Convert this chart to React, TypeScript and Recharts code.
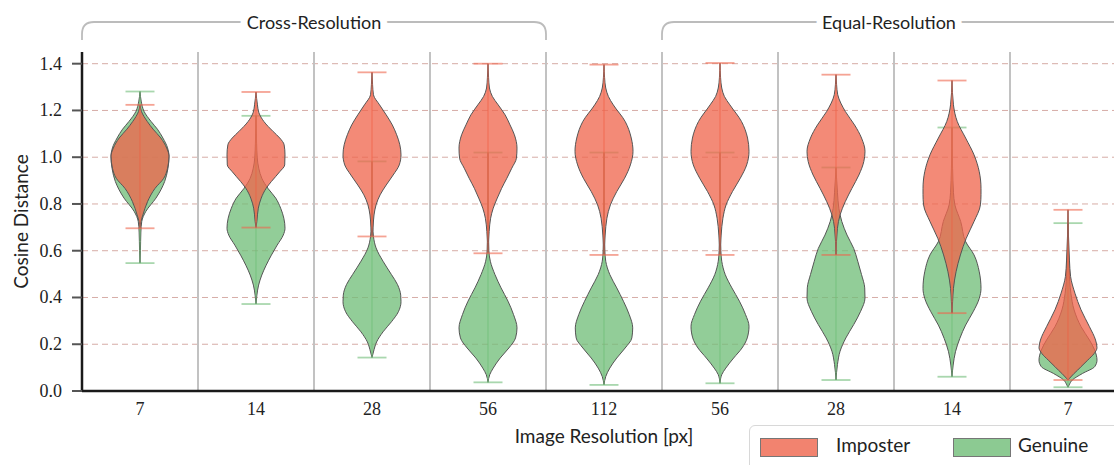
import React from 'react';
import * as RC from 'recharts';

const { ComposedChart, Bar, XAxis, YAxis, CartesianGrid, Legend, Label, Curve } = RC as any;

// ---- categories -----------------------------------------------------------
const CATEGORY_KEYS = [
  'cross-7', 'cross-14', 'cross-28', 'cross-56', 'both-112',
  'equal-56', 'equal-28', 'equal-14', 'equal-7',
];
const RESOLUTION_LABELS = ['7', '14', '28', '56', '112', '56', '28', '14', '7'];

// bracket groups above the plot (band index ranges, end exclusive)
const SECTION_LABELS = ['Cross-Resolution', 'Equal-Resolution'];
const SECTION_START = [0, 5];
const SECTION_END = [4, 9];

const Y_TICKS = [0, 0.2, 0.4, 0.6, 0.8, 1.0, 1.2, 1.4];
const GRID_VALUES = [0.2, 0.4, 0.6, 0.8, 1.0, 1.2, 1.4];

// ---- violin profiles: [cosine distance, relative density width] from min to max
type Knot = [number, number];

const IMPOSTER_CROSS_7: Knot[] = [[0.696, 0], [0.725, 0.03], [0.753, 0.1], [0.81, 0.26], [0.867, 0.52], [0.91, 0.82], [0.953, 0.95], [1.005, 1.0], [1.039, 0.92], [1.082, 0.72], [1.12, 0.45], [1.153, 0.25], [1.196, 0.05], [1.224, 0]];
const IMPOSTER_CROSS_14: Knot[] = [[0.699, 0], [0.725, 0.03], [0.782, 0.08], [0.825, 0.18], [0.867, 0.35], [0.896, 0.53], [0.938, 0.82], [0.967, 0.99], [1.01, 1.0], [1.053, 0.97], [1.082, 0.82], [1.11, 0.59], [1.153, 0.27], [1.19, 0.1], [1.224, 0.05], [1.279, 0]];
const IMPOSTER_CROSS_28: Knot[] = [[0.661, 0], [0.71, 0.04], [0.753, 0.07], [0.796, 0.14], [0.839, 0.28], [0.881, 0.49], [0.924, 0.73], [0.967, 0.94], [1.01, 1.0], [1.053, 0.96], [1.096, 0.85], [1.138, 0.7], [1.181, 0.49], [1.224, 0.26], [1.267, 0.05], [1.31, 0.02], [1.363, 0]];
const IMPOSTER_CROSS_56: Knot[] = [[0.589, 0], [0.682, 0.04], [0.739, 0.09], [0.782, 0.18], [0.825, 0.32], [0.867, 0.47], [0.91, 0.65], [0.953, 0.82], [0.996, 0.98], [1.039, 1.0], [1.096, 0.91], [1.138, 0.76], [1.181, 0.59], [1.224, 0.35], [1.26, 0.15], [1.296, 0.05], [1.34, 0.02], [1.4, 0]];
const IMPOSTER_BOTH_112: Knot[] = [[0.582, 0], [0.667, 0.04], [0.739, 0.1], [0.796, 0.22], [0.853, 0.44], [0.91, 0.71], [0.967, 0.91], [1.025, 1.0], [1.082, 0.94], [1.153, 0.73], [1.224, 0.32], [1.26, 0.15], [1.296, 0.06], [1.34, 0.02], [1.396, 0]];
const IMPOSTER_EQUAL_56: Knot[] = [[0.582, 0], [0.667, 0.04], [0.739, 0.1], [0.796, 0.21], [0.853, 0.43], [0.91, 0.7], [0.967, 0.92], [1.025, 1.0], [1.082, 0.95], [1.153, 0.74], [1.224, 0.34], [1.26, 0.15], [1.296, 0.06], [1.34, 0.02], [1.403, 0]];
const IMPOSTER_EQUAL_28: Knot[] = [[0.582, 0], [0.696, 0.05], [0.753, 0.14], [0.81, 0.32], [0.867, 0.55], [0.924, 0.79], [0.982, 0.96], [1.025, 1.0], [1.082, 0.88], [1.138, 0.64], [1.196, 0.32], [1.267, 0.06], [1.31, 0.02], [1.353, 0]];
const IMPOSTER_EQUAL_14: Knot[] = [[0.333, 0], [0.382, 0.02], [0.439, 0.05], [0.51, 0.14], [0.582, 0.29], [0.653, 0.49], [0.725, 0.76], [0.796, 0.98], [0.84, 1.0], [0.867, 1.0], [0.938, 0.94], [1.01, 0.76], [1.082, 0.47], [1.153, 0.18], [1.224, 0.05], [1.328, 0]];
const IMPOSTER_EQUAL_7: Knot[] = [[0.047, 0], [0.054, 0.05], [0.075, 0.21], [0.089, 0.33], [0.104, 0.45], [0.132, 0.68], [0.16, 0.9], [0.185, 1.0], [0.218, 0.95], [0.275, 0.74], [0.347, 0.45], [0.418, 0.24], [0.489, 0.09], [0.56, 0.05], [0.775, 0]];

const GENUINE_CROSS_7: Knot[] = [[0.547, 0], [0.6, 0.015], [0.68, 0.03], [0.725, 0.06], [0.768, 0.2], [0.825, 0.55], [0.896, 0.85], [0.95, 0.96], [1.003, 1.0], [1.04, 0.95], [1.082, 0.79], [1.12, 0.6], [1.153, 0.38], [1.196, 0.14], [1.24, 0.04], [1.281, 0]];
const GENUINE_CROSS_14: Knot[] = [[0.372, 0], [0.41, 0.03], [0.453, 0.09], [0.496, 0.2], [0.538, 0.35], [0.581, 0.53], [0.624, 0.73], [0.667, 0.94], [0.696, 1.0], [0.739, 0.96], [0.782, 0.85], [0.825, 0.68], [0.867, 0.41], [0.91, 0.2], [0.95, 0.1], [1.0, 0.04], [1.06, 0.02], [1.177, 0]];
const GENUINE_CROSS_28: Knot[] = [[0.143, 0], [0.167, 0.05], [0.21, 0.16], [0.253, 0.38], [0.296, 0.67], [0.339, 0.91], [0.382, 1.0], [0.41, 0.99], [0.455, 0.88], [0.498, 0.67], [0.555, 0.38], [0.612, 0.14], [0.661, 0.05], [0.7, 0.03], [0.8, 0.015], [0.982, 0]];
const GENUINE_CROSS_56: Knot[] = [[0.037, 0], [0.07, 0.06], [0.098, 0.18], [0.141, 0.42], [0.184, 0.72], [0.227, 0.95], [0.27, 1.0], [0.327, 0.88], [0.384, 0.69], [0.441, 0.45], [0.498, 0.24], [0.555, 0.08], [0.6, 0.03], [0.7, 0.015], [1.02, 0]];
const GENUINE_BOTH_112: Knot[] = [[0.026, 0], [0.062, 0.06], [0.098, 0.2], [0.141, 0.44], [0.184, 0.73], [0.227, 0.96], [0.27, 0.99], [0.327, 0.87], [0.384, 0.67], [0.441, 0.44], [0.498, 0.2], [0.555, 0.06], [0.6, 0.03], [0.7, 0.015], [1.02, 0]];
const GENUINE_EQUAL_56: Knot[] = [[0.033, 0], [0.07, 0.06], [0.098, 0.2], [0.141, 0.47], [0.184, 0.76], [0.227, 0.94], [0.277, 1.0], [0.327, 0.88], [0.384, 0.67], [0.441, 0.41], [0.498, 0.18], [0.555, 0.06], [0.6, 0.03], [0.7, 0.015], [1.02, 0]];
const GENUINE_EQUAL_28: Knot[] = [[0.047, 0], [0.113, 0.05], [0.17, 0.14], [0.227, 0.34], [0.284, 0.61], [0.341, 0.85], [0.398, 1.0], [0.441, 0.99], [0.498, 0.88], [0.555, 0.75], [0.61, 0.61], [0.667, 0.38], [0.725, 0.2], [0.78, 0.1], [0.85, 0.05], [0.956, 0]];
const GENUINE_EQUAL_14: Knot[] = [[0.061, 0], [0.111, 0.04], [0.168, 0.12], [0.225, 0.27], [0.282, 0.47], [0.339, 0.73], [0.396, 0.94], [0.439, 1.0], [0.51, 0.94], [0.582, 0.76], [0.639, 0.47], [0.725, 0.3], [0.796, 0.1], [0.85, 0.05], [0.95, 0.02], [1.127, 0]];
const GENUINE_EQUAL_7: Knot[] = [[0.016, 0], [0.026, 0.04], [0.047, 0.15], [0.075, 0.5], [0.104, 0.92], [0.132, 1.0], [0.175, 0.92], [0.218, 0.74], [0.275, 0.45], [0.347, 0.21], [0.418, 0.1], [0.517, 0.04], [0.718, 0]];

const IMPOSTER_PROFILES = [
  IMPOSTER_CROSS_7, IMPOSTER_CROSS_14, IMPOSTER_CROSS_28, IMPOSTER_CROSS_56, IMPOSTER_BOTH_112,
  IMPOSTER_EQUAL_56, IMPOSTER_EQUAL_28, IMPOSTER_EQUAL_14, IMPOSTER_EQUAL_7,
];
const GENUINE_PROFILES = [
  GENUINE_CROSS_7, GENUINE_CROSS_14, GENUINE_CROSS_28, GENUINE_CROSS_56, GENUINE_BOTH_112,
  GENUINE_EQUAL_56, GENUINE_EQUAL_28, GENUINE_EQUAL_14, GENUINE_EQUAL_7,
];

// ---- styling ----------------------------------------------------------------
const SANS = "Lato, 'Open Sans', sans-serif";
const SERIF = "'Liberation Serif', 'DejaVu Serif', serif";
const TEXT = '#222';
const IMPOSTER_COLOR = '#ef654c';
const GENUINE_COLOR = '#70bd78';
const BODY_OPACITY = 0.76;

const CHART_W = 1130;
const CHART_H = 480;
const MARGIN = { top: 52, right: 4, bottom: 29, left: 0 };
const Y_AXIS_W = 82;
const X_AXIS_H = 60;

const rows = CATEGORY_KEYS.map((key, i) => {
  const imp = IMPOSTER_PROFILES[i];
  const gen = GENUINE_PROFILES[i];
  return {
    key,
    label: RESOLUTION_LABELS[i],
    imposter: [imp[0][0], imp[imp.length - 1][0]],
    genuine: [gen[0][0], gen[gen.length - 1][0]],
    imposterProfile: imp,
    genuineProfile: gen,
  };
});

const labelFor = (key: string) => {
  const i = CATEGORY_KEYS.indexOf(key);
  return i >= 0 ? RESOLUTION_LABELS[i] : key;
};

// serif tick labels
function XTick(props: any) {
  const { x, y, payload } = props;
  return (
    <text x={x} y={y} dy={13} textAnchor="middle" fontFamily={SERIF} fontSize={18} fill={TEXT}>
      {labelFor(payload.value)}
    </text>
  );
}
function YTick(props: any) {
  const { x, y, payload } = props;
  return (
    <text x={x} y={y} dy={6} textAnchor="end" fontFamily={SERIF} fontSize={18} fill={TEXT}>
      {Number(payload.value).toFixed(1)}
    </text>
  );
}

// One violin: mirrored density body, centre bar, and min/max caps.
function Violin(props: any) {
  const { x, y, width, height, profile, color } = props;
  if (x == null || y == null || !profile || !profile.length) return <g />;
  const lo = profile[0][0];
  const hi = profile[profile.length - 1][0];
  const top = Math.min(y, y + height);
  const bottom = Math.max(y, y + height);
  const toPx = (v: number) => (hi === lo ? bottom : bottom - ((v - lo) / (hi - lo)) * (bottom - top));
  const cx = x + width / 2;
  const half = width / 2;
  const ordered = [...profile].reverse();
  const right = ordered.map(([v, w]: Knot) => ({ x: cx + w * half, y: toPx(v) }));
  const left = ordered.map(([v, w]: Knot) => ({ x: cx - w * half, y: toPx(v) }));
  const cap = width / 4;
  return (
    <g>
      <Curve
        type="monotoneY"
        layout="vertical"
        points={right}
        baseLine={left}
        fill={color}
        fillOpacity={BODY_OPACITY}
        stroke="#555"
        strokeWidth={1}
      />
      <line x1={cx} x2={cx} y1={top} y2={bottom} stroke={color} strokeOpacity={0.7} strokeWidth={1.2} />
      <line x1={cx - cap} x2={cx + cap} y1={top} y2={top} stroke={color} strokeOpacity={0.6} strokeWidth={1.8} />
      <line x1={cx - cap} x2={cx + cap} y1={bottom} y2={bottom} stroke={color} strokeOpacity={0.6} strokeWidth={1.8} />
    </g>
  );
}

const usePlotAreaCompat: () => any = (RC as any).usePlotArea ?? (() => null);

function SectionBrackets() {
  const hooked = usePlotAreaCompat();
  const area = hooked ?? {
    x: MARGIN.left + Y_AXIS_W,
    y: MARGIN.top,
    width: CHART_W - MARGIN.left - MARGIN.right - Y_AXIS_W,
    height: CHART_H - MARGIN.top - MARGIN.bottom - X_AXIS_H,
  };
  const band = area.width / CATEGORY_KEYS.length;
  const yLine = area.y - 30;
  const yEnd = area.y - 12;
  const r = 12;
  return (
    <g>
      {SECTION_LABELS.map((label, i) => {
        const x0 = area.x + SECTION_START[i] * band;
        const x1 = area.x + SECTION_END[i] * band;
        const d = `M${x0},${yEnd} L${x0},${yLine + r} Q${x0},${yLine} ${x0 + r},${yLine} L${x1 - r},${yLine} Q${x1},${yLine} ${x1},${yLine + r} L${x1},${yEnd}`;
        return (
          <g key={label}>
            <path d={d} fill="none" stroke="#bcbcbc" strokeWidth={1.8} />
            <text
              x={(x0 + x1) / 2 - (i === 1 ? 5 : 0)}
              y={yLine}
              textAnchor="middle"
              dominantBaseline="central"
              fontFamily={SANS}
              fontSize={18}
              fill={TEXT}
              stroke="#fff"
              strokeWidth={14}
              paintOrder="stroke"
              strokeLinejoin="round"
            >
              {label}
            </text>
          </g>
        );
      })}
    </g>
  );
}

const SERIES_NAMES = ['Imposter', 'Genuine'];
const SERIES_COLORS = [IMPOSTER_COLOR, GENUINE_COLOR];
const LEGEND_SWATCH_LEFT = [10, 203];
const LEGEND_TEXT_LEFT = [86, 268];

function LegendBox() {
  return (
    <div
      style={{
        position: 'relative',
        width: 420,
        height: 70,
        border: '1px solid #d8d8d8',
        borderRadius: 6,
        background: '#fff',
        boxSizing: 'border-box',
        fontFamily: SANS,
        fontSize: 19,
        lineHeight: 1.2,
        color: TEXT,
      }}
    >
      {SERIES_NAMES.map((name, i) => (
        <React.Fragment key={name}>
          <div
            style={{
              position: 'absolute',
              left: LEGEND_SWATCH_LEFT[i],
              top: 12,
              width: 58,
              height: 19,
              boxSizing: 'border-box',
              background: SERIES_COLORS[i],
              opacity: 0.8,
              border: '1.5px solid #555',
            }}
          />
          <div style={{ position: 'absolute', left: LEGEND_TEXT_LEFT[i], top: 8, whiteSpace: 'nowrap' }}>{name}</div>
        </React.Fragment>
      ))}
    </div>
  );
}

const separatorCoords = ({ xAxis, offset }: any) => {
  const n = CATEGORY_KEYS.length;
  const scale = xAxis && xAxis.scale;
  if (scale && typeof scale === 'function' && typeof scale.bandwidth === 'function') {
    const pts = CATEGORY_KEYS.slice(1).map((k) => scale(k));
    if (pts.every((p: any) => typeof p === 'number' && isFinite(p))) return pts;
  }
  return CATEGORY_KEYS.slice(1).map((_, i) => offset.left + ((i + 1) * offset.width) / n);
};

export default function App() {
  return (
    <div style={{ position: 'absolute', left: 0, top: 0, width: 1114, height: 465, overflow: 'hidden', background: '#fff' }}>
      <ComposedChart width={CHART_W} height={CHART_H} data={rows} margin={MARGIN} barCategoryGap="25%">
        <CartesianGrid
          xAxisId="imp"
          vertical={false}
          horizontalValues={GRID_VALUES}
          stroke="#d6aca6"
          strokeDasharray="6 4"
          strokeWidth={1}
        />
        <CartesianGrid
          xAxisId="imp"
          horizontal={false}
          stroke="#c2c2c2"
          strokeWidth={2}
          verticalCoordinatesGenerator={separatorCoords}
        />
        <XAxis xAxisId="gen" dataKey="key" type="category" hide height={0} />
        <XAxis
          xAxisId="imp"
          dataKey="key"
          type="category"
          height={X_AXIS_H}
          interval={0}
          tickFormatter={labelFor}
          tickLine={false}
          tickMargin={5}
          axisLine={{ stroke: '#1a1a1a', strokeWidth: 2.5 }}
          tick={<XTick />}
        >
          <Label
            content={(p: any) => {
              const vb = p.viewBox || {};
              return (
                <text x={vb.x + vb.width / 2} y={vb.y + 52} textAnchor="middle" fontFamily={SANS} fontSize={19} fill={TEXT}>
                  Image Resolution [px]
                </text>
              );
            }}
          />
        </XAxis>
        <YAxis
          width={Y_AXIS_W}
          domain={[0, 1.45]}
          ticks={Y_TICKS}
          type="number"
          allowDataOverflow
          tickSize={10}
          tickMargin={10}
          tickLine={{ stroke: '#555', strokeWidth: 2 }}
          axisLine={{ stroke: '#1a1a1a', strokeWidth: 2.5 }}
          tick={<YTick />}
        >
          <Label
            content={(p: any) => {
              const vb = p.viewBox || {};
              const cx = vb.x + 20;
              const cy = vb.y + vb.height / 2;
              return (
                <text
                  x={cx}
                  y={cy}
                  transform={`rotate(-90 ${cx} ${cy})`}
                  textAnchor="middle"
                  dominantBaseline="central"
                  fontFamily={SANS}
                  fontSize={19}
                  fill={TEXT}
                >
                  Cosine Distance
                </text>
              );
            }}
          />
        </YAxis>
        <Bar
          xAxisId="gen"
          dataKey="genuine"
          name="Genuine"
          isAnimationActive={false}
          activeBar={false}
          shape={(p: any) => <Violin {...p} profile={p.payload.genuineProfile} color={GENUINE_COLOR} />}
        />
        <Bar
          xAxisId="imp"
          dataKey="imposter"
          name="Imposter"
          isAnimationActive={false}
          activeBar={false}
          shape={(p: any) => <Violin {...p} profile={p.payload.imposterProfile} color={IMPOSTER_COLOR} />}
        />
        <Legend
          layout="horizontal"
          verticalAlign="middle"
          align="center"
          wrapperStyle={{ left: 749, top: 425, width: 420, right: 'auto', bottom: 'auto' }}
          content={() => <LegendBox />}
        />
        <SectionBrackets />
      </ComposedChart>
    </div>
  );
}
